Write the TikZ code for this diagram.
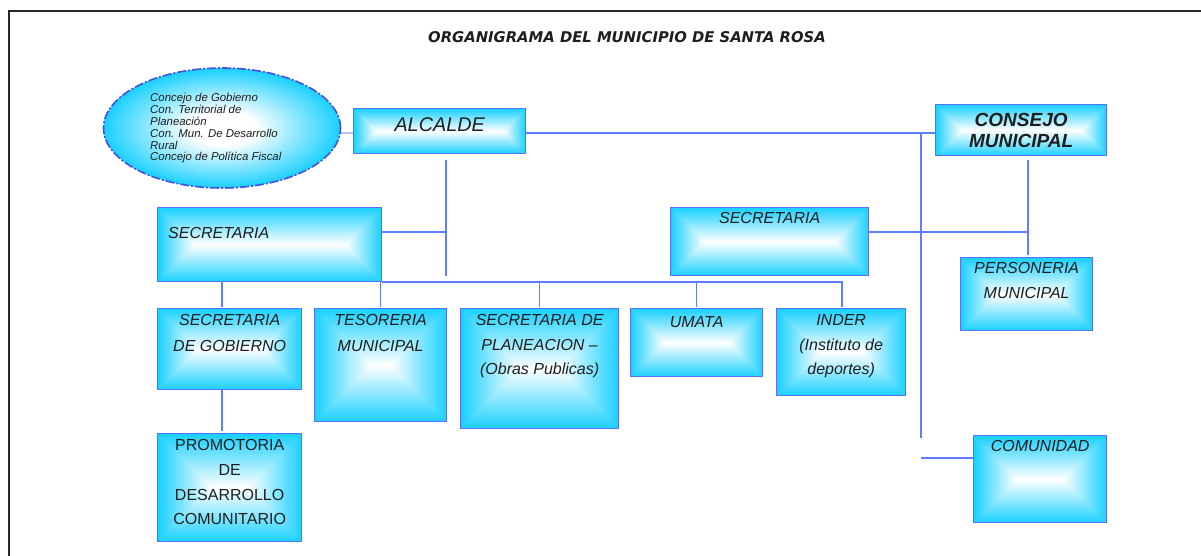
\documentclass[tikz,border=0pt]{standalone}
\usepackage{fontspec}
\setmainfont{Liberation Sans}
\newfontfamily\titlefont{DejaVu Sans}
\usetikzlibrary{shapes.geometric}
\definecolor{cyanC}{RGB}{25,208,255}
\definecolor{boxB}{RGB}{85,115,250}
\definecolor{lineB}{RGB}{95,125,255}
\definecolor{ellB}{RGB}{70,80,225}
\definecolor{txt}{RGB}{30,30,30}
\pgfdeclareradialshading{ellshade}{\pgfpoint{0bp}{0bp}}{color(0bp)=(white); color(7bp)=(white); color(25bp)=(cyanC); color(50bp)=(cyanC)}
\newcommand\mkpathshade[2]{%
\pgfdeclarefunctionalshading{#1}{\pgfpoint{0bp}{0bp}}{\pgfpoint{100bp}{100bp}}{}{
  50 sub abs 25 div 1 exch sub
  exch 50 sub abs 25 div 1 exch sub #2 mul
  2 copy gt {exch} if pop
  dup 0 lt {pop 0} if
  dup 1 gt {pop 1} if
  1 exch sub
  dup 0.902 mul 1 exch sub
  exch 0.184 mul 1 exch sub
  1
}}
\mkpathshade{shA}{3.82}
\mkpathshade{shB}{3.35}
\mkpathshade{shC}{3.03}
\mkpathshade{shD}{2.91}
\mkpathshade{shE}{1.81}
\mkpathshade{shF}{1.53}
\mkpathshade{shG}{1.78}
\mkpathshade{shH}{1.17}
\mkpathshade{shI}{1.32}
\mkpathshade{shJ}{1.94}
\mkpathshade{shK}{1.48}
\mkpathshade{shL}{1.33}
\begin{document}
\begin{tikzpicture}[x=1pt,y=-1pt,
  box/.style={draw=boxB, line width=1.3pt, anchor=north west, inner sep=0pt},
  lbl/.style={inner sep=0pt, align=center, text=txt, font=\itshape\fontsize{16}{26}\selectfont},
  conn/.style={draw=lineB, line width=1.1pt},
]
\useasboundingbox (0,0) rectangle (1201,556);
% frame
\draw[line width=2pt, black!85] (9,556) -- (9,11) -- (1201,11);
% title
\node[font=\titlefont\bfseries\itshape\fontsize{14.8}{16}\selectfont, text=txt, inner sep=0pt] (title) at (627,37) {ORGANIGRAMA DEL MUNICIPIO DE SANTA ROSA};

% ellipse
\node[ellipse, draw=ellB, line width=1.6pt, dash pattern=on 9pt off 2pt on 2pt off 2pt, shading=ellshade, minimum width=237pt, minimum height=120pt, inner sep=0pt] (ell) at (222,128) {};
\node[anchor=north west, inner sep=0pt, align=left, text=txt, font=\itshape\fontsize{11.4}{11.8}\selectfont] (elltxt) at (150,93.5) {Concejo de Gobierno\\Con. Territorial de\\Planeación\\Con. Mun. De Desarrollo\\Rural\\Concejo de Política Fiscal};

% boxes
\node[box, shading=shA, minimum width=172pt, minimum height=45pt, label={[lbl, anchor=north, yshift=-9pt, font=\itshape\fontsize{19.8}{20}\selectfont]north:{ALCALDE}}] (alc) at (353,108) {};
\node[box, shading=shB, minimum width=171pt, minimum height=51pt, label={[lbl, anchor=north, yshift=-9.5pt, font=\bfseries\itshape\fontsize{19}{21}\selectfont]north:{CONSEJO\\MUNICIPAL}}] (cons) at (935,104) {};
\node[box, shading=shC, minimum width=224pt, minimum height=74pt, label={[lbl, anchor=north west, xshift=11pt, yshift=-20pt]north west:{SECRETARIA}}] (sec1) at (157,207) {};
\node[box, shading=shD, minimum width=198pt, minimum height=68pt, label={[lbl, anchor=north, yshift=-5pt]north:{SECRETARIA}}] (sec2) at (670,207) {};
\node[box, shading=shE, minimum width=132pt, minimum height=73pt, label={[lbl, anchor=north, yshift=-5.5pt, font=\itshape\fontsize{16}{25}\selectfont]north:{PERSONERIA\\MUNICIPAL}}] (pers) at (960,257) {};
\node[box, shading=shF, minimum width=133pt, minimum height=87pt, label={[lbl, anchor=north, yshift=-5pt]north:{COMUNIDAD}}] (com) at (973,435) {};

\node[box, shading=shG, minimum width=144pt, minimum height=81pt, label={[lbl, anchor=north, yshift=-6.3pt]north:{SECRETARIA\\DE GOBIERNO}}] (gob) at (157,308) {};
\node[box, shading=shH, minimum width=132pt, minimum height=113pt, label={[lbl, anchor=north, yshift=-6.3pt]north:{TESORERIA\\MUNICIPAL}}] (tes) at (314,308) {};
\node[box, shading=shI, minimum width=158pt, minimum height=120pt, label={[lbl, anchor=north, yshift=-6.3pt, font=\itshape\fontsize{16}{24.5}\selectfont]north:{SECRETARIA DE\\PLANEACION –\\(Obras Publicas)}}] (plan) at (460,308) {};
\node[box, shading=shJ, minimum width=132pt, minimum height=68pt, label={[lbl, anchor=north, yshift=-8pt]north:{UMATA}}] (umata) at (630,308) {};
\node[box, shading=shK, minimum width=129pt, minimum height=87pt, label={[lbl, anchor=north, yshift=-6.3pt, font=\itshape\fontsize{16}{24.5}\selectfont]north:{INDER\\(Instituto de\\deportes)}}] (inder) at (776,308) {};
\node[box, shading=shL, minimum width=144pt, minimum height=108pt, label={[lbl, anchor=north, yshift=-6.3pt, font=\fontsize{16}{24.7}\selectfont]north:{PROMOTORIA\\DE\\DESARROLLO\\COMUNITARIO}}] (prom) at (157,433) {};

% junction coordinates
\coordinate (vtop) at (921,133);
\coordinate (vbot) at (921,438);
\coordinate (clink) at (921,458);
\coordinate (atop) at (446,160);
\coordinate (abot) at (446,276);
\coordinate (h1) at (446,232);
\coordinate (h2) at (1028,232);
\coordinate (ptop) at (1028,160);
\coordinate (pbot) at (1028,255);
\coordinate (bus) at (842,282);
\coordinate (g1) at (222,281);
\coordinate (g2) at (222,307);
\coordinate (g3) at (222,389);
\coordinate (g4) at (222,431);

% connectors
\draw[conn, draw=lineB!45] (ell.east |- vtop) -- (alc.west |- vtop);
\draw[conn] (alc.east |- vtop) -- (cons.west |- vtop);
\draw[conn] (vtop) -- (vbot);
\draw[conn] (clink) -- (com.west |- clink);
\draw[conn] (atop) -- (abot);
\draw[conn] (sec1.east |- h1) -- (h1);
\draw[conn] (sec2.east |- h2) -- (h2);
\draw[conn] (ptop) -- (pbot);
\draw[conn] (sec1.east |- bus) -- (bus) -- ([yshift=1pt]bus |- inder.north);
\draw[conn] (tes.north |- bus) -- ([yshift=1pt]tes.north);
\draw[conn] (plan.north |- bus) -- ([yshift=1pt]plan.north);
\draw[conn] (umata.north |- bus) -- ([yshift=1pt]umata.north);
\draw[conn] (g1) -- (g2);
\draw[conn] (g3) -- (g4);
\end{tikzpicture}
\end{document}
